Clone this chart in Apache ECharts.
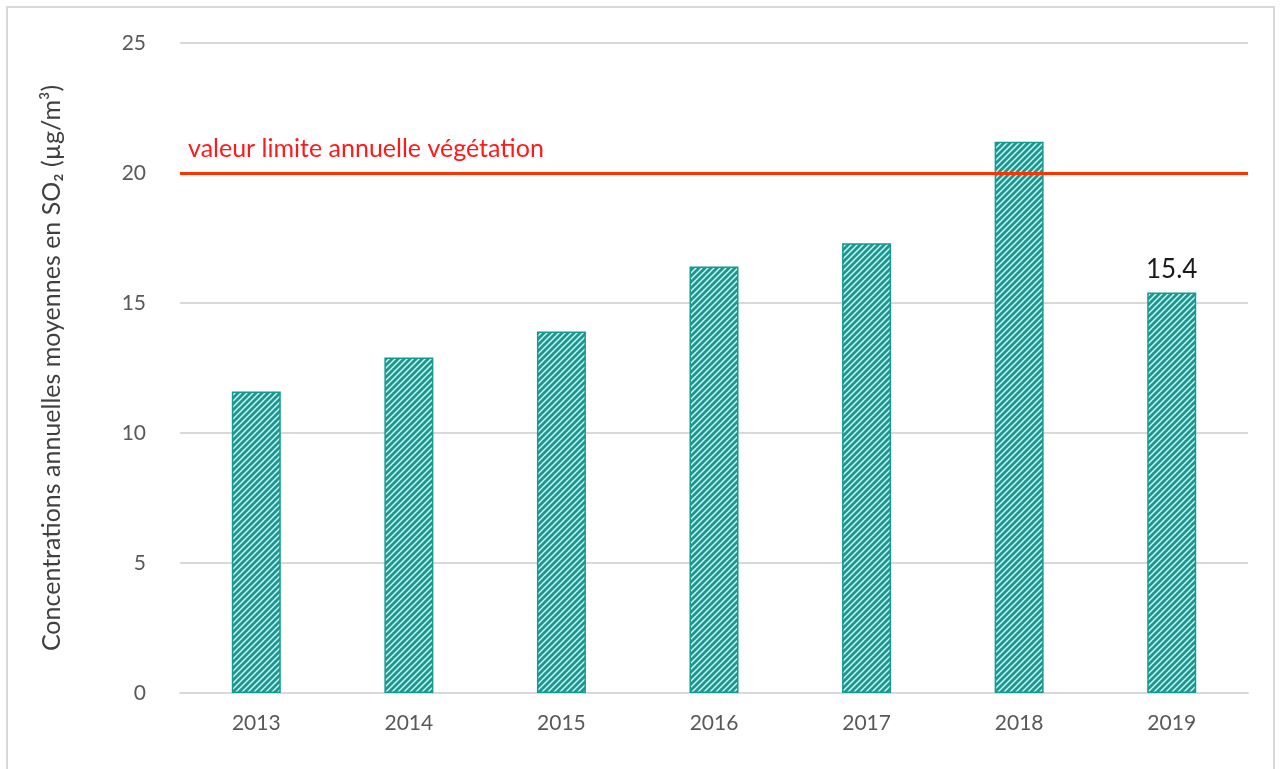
<!DOCTYPE html>
<html>
<head>
<meta charset="utf-8">
<title>SO2</title>
<script src="https://cdn.jsdelivr.net/npm/echarts@6/dist/echarts.min.js"></script>
<style>
html,body{margin:0;padding:0;background:#fff;}
#main{position:absolute;left:6px;top:6px;width:1269px;height:770px;border:2px solid #d9d9d9;box-sizing:border-box;}
</style>
</head>
<body>
<div id="main"></div>
<script>
// données
var years = ['2013', '2014', '2015', '2016', '2017', '2018', '2019'];
var concentrations = [11.6, 12.9, 13.9, 16.4, 17.3, 21.2, 15.4];
var limiteVegetation = 20;
var yTicks = [0, 5, 10, 15, 20, 25];

// motif hachuré des barres
function hatch() {
    var c = document.createElement('canvas');
    c.width = 6; c.height = 6;
    var ctx = c.getContext('2d');
    ctx.fillStyle = '#139a93';
    ctx.fillRect(0, 0, 6, 6);
    ctx.strokeStyle = 'rgba(255,255,255,0.9)';
    ctx.lineWidth = 1.4;
    ctx.beginPath();
    ctx.moveTo(-1, 7); ctx.lineTo(7, -1);
    ctx.moveTo(-4, 4); ctx.lineTo(4, -4);
    ctx.moveTo(2, 10); ctx.lineTo(10, 2);
    ctx.stroke();
    return c;
}

var myChart = echarts.init(document.getElementById('main'));
var barData = concentrations.map(function (v, i) {
    if (i == concentrations.length - 1) {
        return { value: v, label: { show: true } };
    }
    return v;
});

var option = {
    animation: false,
    textStyle: { fontFamily: 'Lato' },
    grid: { left: 172, right: 25, top: 35, bottom: 81 },
    xAxis: {
        type: 'category',
        data: years,
        axisTick: { show: false },
        axisLine: { lineStyle: { color: '#d9d9d9', width: 2 } },
        axisLabel: { color: '#595959', fontSize: 21, margin: 20, fontFamily: 'Lato' }
    },
    yAxis: {
        type: 'value',
        min: yTicks[0],
        max: yTicks[yTicks.length - 1],
        interval: 5,
        name: 'Concentrations annuelles moyennes en SO₂ (µg/m³)',
        nameLocation: 'middle',
        nameGap: 116,
        nameTextStyle: { color: '#404040', fontSize: 25, fontFamily: 'Lato' },
        axisLine: { show: false },
        axisTick: { show: false },
        splitLine: { lineStyle: { color: '#d9d9d9', width: 2 } },
        axisLabel: { color: '#595959', fontSize: 21, margin: 34, fontFamily: 'Lato' }
    },
    series: [{
        type: 'bar',
        data: barData,
        barWidth: 49,
        itemStyle: {
            color: { image: hatch(), repeat: 'repeat' },
            borderColor: '#139a93',
            borderWidth: 1.5
        },
        label: {
            show: false,
            position: 'top',
            distance: 10,
            color: '#1a1a1a',
            fontSize: 26,
            fontFamily: 'Lato'
        },
        markLine: {
            silent: true,
            symbol: ['none', 'none'],
            lineStyle: { color: '#ff3300', width: 3, type: 'solid' },
            label: {
                show: true,
                position: 'insideStartTop',
                formatter: 'valeur limite annuelle végétation',
                color: '#ff1a1a',
                fontSize: 25,
                fontFamily: 'Lato',
                distance: [8, 12]
            },
            data: [{ yAxis: limiteVegetation }]
        }
    }]
};
myChart.setOption(option);
</script>
</body>
</html>
